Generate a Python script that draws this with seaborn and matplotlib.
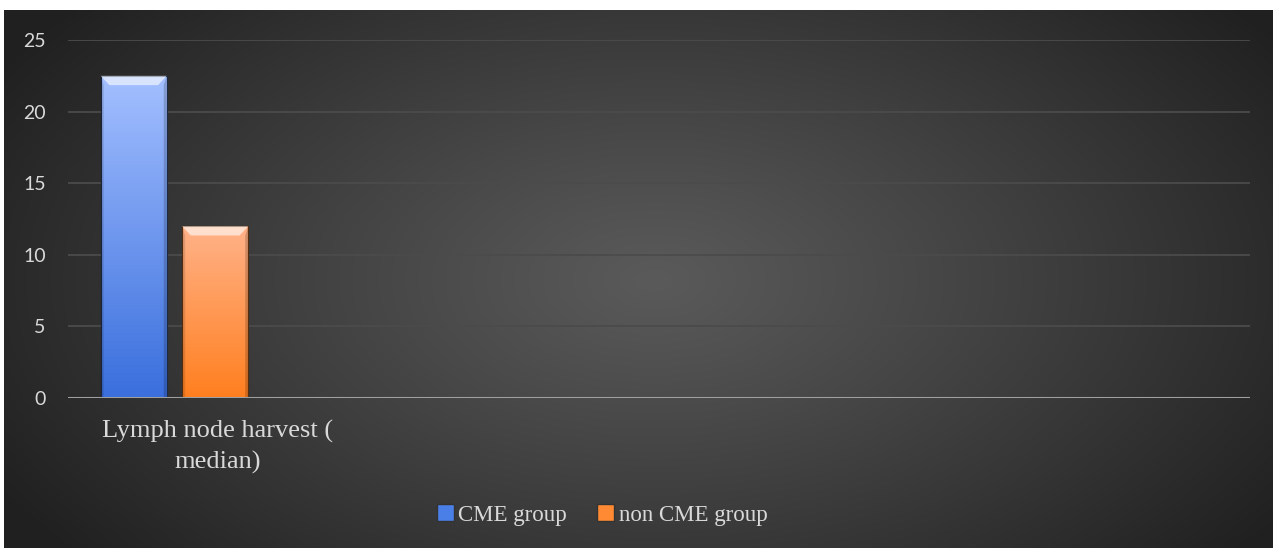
import numpy as np
import pandas as pd
import matplotlib
matplotlib.use("Agg")
import matplotlib.pyplot as plt
from matplotlib.patches import Polygon
from matplotlib.transforms import ScaledTranslation
import seaborn as sns

# data
categories = ["Lymph node harvest (\nmedian)"]
groups = ["CME group", "non CME group"]
cme_values = [22.5]
non_cme_values = [12.0]

df = pd.DataFrame({
    "category": categories * 2,
    "group": [groups[0]] * len(categories) + [groups[1]] * len(categories),
    "value": cme_values + non_cme_values,
})

sns.set_theme(style="dark")
plt.rcParams["font.family"] = ["Lato", "DejaVu Sans"]

W, H = 1273, 548
fig = plt.figure(figsize=(W / 100, H / 100), dpi=100)
fig.patch.set_facecolor("white")

# radial dark background (chart area starts a few px in from top/left)
bg = fig.add_axes([4 / W, 0, 1 - 4 / W, 1 - 10 / H])
bg.set_axis_off()
yy, xx = np.mgrid[0:H - 10, 0:W - 4]
r = np.sqrt(((xx - 650) / 760.0) ** 2 + ((yy - 270) / 430.0) ** 2)
r = np.clip(r, 0, 1)
c_in, c_out = 0x5a / 255, 0x20 / 255
shade = c_in + (c_out - c_in) * r ** 1.1
bg.imshow(np.dstack([shade] * 3), aspect="auto", extent=[0, 1, 0, 1])
bg.set_xlim(0, 1)
bg.set_ylim(0, 1)

ax = fig.add_axes([68 / W, 1 - 398 / H, (1250 - 68) / W, (398 - 40) / H])
ax.set_facecolor("none")

palette = {"CME group": "#4a7fe8", "non CME group": "#ff8a33"}
sns.barplot(data=df, x="category", y="value", hue="group", order=categories,
            hue_order=groups, palette=palette, width=0.765, gap=0.19,
            ax=ax, saturation=1, legend=True)

ax.set_xlim(-0.5, 5.05)
ax.set_ylim(0, 25)
ax.set_yticks([0, 5, 10, 15, 20, 25])
ax.grid(axis="y", color="#4b4b4b", linewidth=1.3)
ax.grid(axis="x", visible=False)
ax.set_axisbelow(True)
for s in ax.spines.values():
    s.set_visible(False)
ax.axhline(0, color="#a0a0a0", linewidth=2.2, zorder=3)
ax.set_xlabel("")
ax.set_ylabel("")
ax.tick_params(axis="y", colors="#d9d9d9", labelsize=14, pad=16, length=0)
ax.tick_params(axis="x", colors="#d9d9d9", length=0, pad=16)
for lab in ax.get_xticklabels():
    lab.set_fontfamily(["Liberation Serif", "DejaVu Serif"])
    lab.set_fontsize(19)
    lab.set_color("#d9d9d9")
    lab.set_linespacing(1.45)
    lab.set_transform(lab.get_transform() + ScaledTranslation(0.43, 0, fig.dpi_scale_trans))

# gradient fill and bevel on each bar
grad_cols = {
    "CME group": ("#a3bfff", "#3a6fdd"),
    "non CME group": ("#ffb289", "#ff7f1f"),
}
bar_patches = [p for p in ax.patches if p.get_height() > 0]
for p, g in zip(bar_patches, groups):
    x0, y0 = p.get_x(), p.get_y()
    w, h = p.get_width(), p.get_height()
    top, bot = [np.array(matplotlib.colors.to_rgb(c)) for c in grad_cols[g]]
    t = np.linspace(0, 1, 200)[:, None]
    img = top * (1 - t) + bot * t
    im = ax.imshow(img[:, None, :].repeat(2, axis=1), aspect="auto",
                   extent=[x0, x0 + w, y0, y0 + h], zorder=2, interpolation="bilinear")
    im.set_clip_path(p)
    p.set_edgecolor("#1d2a44" if g == groups[0] else "#5a3010")
    p.set_linewidth(0.8)
    p.set_zorder(2.5)
    p.set_facecolor("none")
    dx = w * 0.13
    dy = 0.65
    bevel = Polygon([[x0, y0 + h], [x0 + w, y0 + h], [x0 + w - dx, y0 + h - dy], [x0 + dx, y0 + h - dy]],
                    closed=True, facecolor="white", alpha=0.6, edgecolor="none", zorder=2.6)
    ax.add_patch(bevel)
    side_l = Polygon([[x0, y0], [x0, y0 + h], [x0 + dx * 0.35, y0 + h - dy], [x0 + dx * 0.35, y0]],
                     closed=True, facecolor="black", alpha=0.12, edgecolor="none", zorder=2.6)
    side_r = Polygon([[x0 + w, y0], [x0 + w, y0 + h], [x0 + w - dx * 0.35, y0 + h - dy], [x0 + w - dx * 0.35, y0]],
                     closed=True, facecolor="black", alpha=0.18, edgecolor="none", zorder=2.6)
    ax.add_patch(side_l)
    ax.add_patch(side_r)

leg = ax.get_legend()
handles = leg.legend_handles
leg.remove()
for hnd, g in zip(handles, groups):
    hnd.set_facecolor(palette[g])
    hnd.set_edgecolor("#333333")
fig.legend(handles, groups, loc="center", bbox_to_anchor=(602 / W, 1 - 515 / H),
           ncol=2, frameon=False, handlelength=0.75, handleheight=0.75,
           handletextpad=0.2, columnspacing=1.3,
           prop={"family": ["Liberation Serif", "DejaVu Serif"], "size": 16.5},
           labelcolor="#d9d9d9")

fig.savefig("out.png", dpi=100, facecolor=fig.get_facecolor())
